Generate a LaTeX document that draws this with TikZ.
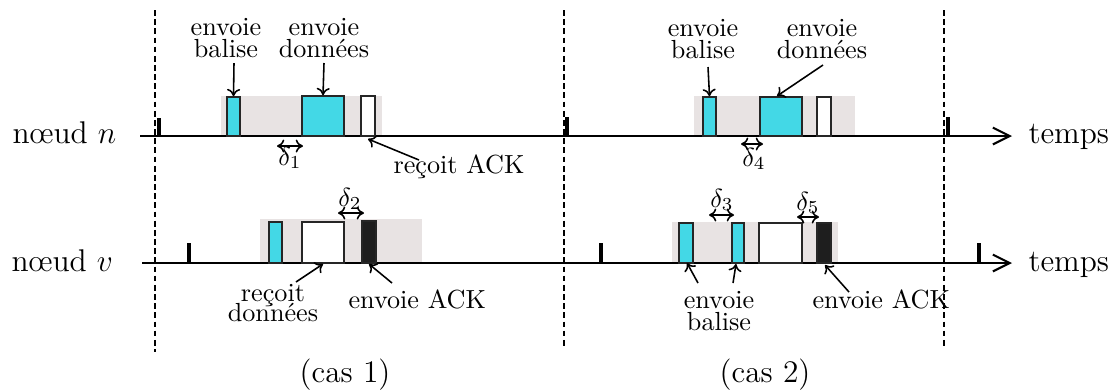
\documentclass[tikz,border=0pt]{standalone}
\usetikzlibrary{fit,arrows.meta}
\definecolor{cyanbox}{RGB}{67,216,230}
\definecolor{bggray}{RGB}{232,227,227}
\definecolor{ackblack}{RGB}{30,30,30}
\newcommand\mylblfont{\fontsize{10pt}{8.3pt}\selectfont\lineskiplimit=-20pt\relax}
\newcommand\mylblfontb{\fontsize{10pt}{7.7pt}\selectfont\lineskiplimit=-20pt\relax}
\newcommand\mybigfont{\fontsize{12pt}{14pt}\selectfont}
\begin{document}
\begin{tikzpicture}[x=0.382pt,y=-0.382pt,
  box/.style={draw=black!85, line width=0.6pt, inner sep=0pt},
  cy/.style={box, fill=cyanbox},
  wh/.style={box, fill=white},
  bk/.style={box, fill=ackblack},
  bg/.style={fill=bggray, inner sep=0pt},
  tickmark/.style={fill=black, inner sep=0pt},
  axis/.style={line width=0.8pt, -{Straight Barb[length=6.4pt,width=6.4pt]}},
  sep/.style={line width=0.5pt, dash pattern=on 2.2pt off 1.3pt},
  ptr/.style={line width=0.6pt, -{To[length=2.8pt,width=5pt]}},
  dlt/.style={line width=0.6pt, {To[length=2.8pt,width=5pt]}-{To[length=2.8pt,width=5pt]}},
  lbl/.style={align=center, inner sep=0pt, font=\mylblfont},
  lblb/.style={align=center, inner sep=0pt, font=\mylblfontb},
  txt/.style={inner sep=0pt},
  big/.style={inner sep=0pt, font=\mybigfont}
]
\useasboundingbox (0,0) rectangle (1118,391);

% grey activity zones
\node[bg, fit={(221,96)(382,136)}] (zu1) {};
\node[bg, fit={(260,219)(422,263)}] (zl1) {};
\node[bg, fit={(694,96)(855,136)}] (zu2) {};
\node[bg, fit={(672,222)(838,263)}] (zl2) {};

% time axes
\coordinate (us) at (140,136);
\coordinate (ue) at (1012,136);
\coordinate (ls) at (142,263);
\coordinate (le) at (1012,263);
\draw[axis] (us) -- (ue);
\draw[axis] (ls) -- (le);

% labels of axes
\node[big, anchor=base west] (nn) at (12,143) {nœud $n$};
\node[big, anchor=base west] (nv) at (11,271) {nœud $v$};
\node[big, anchor=base west] (tn) at (1028,143) {temps};
\node[big, anchor=base west] (tv) at (1028,271) {temps};

% wake-up ticks
\node[tickmark, fit={(157,118)(161,136)}] (t1) {};
\node[tickmark, fit={(565,117)(569,136)}] (t2) {};
\node[tickmark, fit={(946,117)(950,136)}] (t3) {};
\node[tickmark, fit={(187,243)(191,263)}] (t4) {};
\node[tickmark, fit={(599,243)(603,263)}] (t5) {};
\node[tickmark, fit={(977,243)(981,263)}] (t6) {};

% case 1, node n
\node[cy, fit={(227,97)(240,136)}] (ub1) {};
\node[cy, fit={(302,96)(344,136)}] (ud1) {};
\node[wh, fit={(361,96)(375,136)}] (ua1) {};
% case 1, node v
\node[cy, fit={(269,222)(282,263)}] (lb1) {};
\node[wh, fit={(302,222)(344,263)}] (ld1) {};
\node[bk, fit={(362,221)(376,263)}] (la1) {};
% case 2, node n
\node[cy, fit={(703,97)(716,136)}] (ub2) {};
\node[cy, fit={(760,97)(802,136)}] (ud2) {};
\node[wh, fit={(817,97)(831,136)}] (ua2) {};
% case 2, node v
\node[cy, fit={(679,223)(693,263)}] (lb2) {};
\node[cy, fit={(732,223)(744,263)}] (lc2) {};
\node[wh, fit={(759,223)(802,263)}] (ld2) {};
\node[bk, fit={(817,223)(831,263)}] (la2) {};

% separators
\coordinate (s1a) at (155,10); \coordinate (s1b) at (155,352);
\coordinate (s2a) at (564,10); \coordinate (s2b) at (564,347);
\coordinate (s3a) at (944,10); \coordinate (s3b) at (944,347);
\draw[sep] (s1a) -- (s1b);
\draw[sep] (s2a) -- (s2b);
\draw[sep] (s3a) -- (s3b);

% ---- case 1 labels
\node[lbl, anchor=south] (eb1) at (226,58.5) {envoie\\balise};
\node[lbl, anchor=south] (ed1) at (324,58.5) {envoie\\données};
\coordinate (eb1p) at (234,63);
\coordinate (ed1p) at (324,63);
\draw[ptr] (eb1p) -- (ub1.north);
\draw[ptr] (ed1p) -- (ud1.north);

\coordinate (d1a) at (277,146); \coordinate (d1b) at (303,146);
\draw[dlt] (d1a) -- (d1b);
\node[txt, anchor=base] (dl1) at (290,165) {$\delta_1$};

\node[txt, anchor=base west] (ra1) at (393,173) {reçoit ACK};
\coordinate (ra1p) at (419,160); \coordinate (ra1q) at (368,139);
\draw[ptr] (ra1p) -- (ra1q);

\coordinate (d2a) at (338,213); \coordinate (d2b) at (364,213);
\draw[dlt] (d2a) -- (d2b);
\node[txt, anchor=base] (dl2) at (350,206) {$\delta_2$};

\node[lblb, anchor=south] (rd1) at (273,322) {reçoit\\données};
\coordinate (rd1p) at (296,282); \coordinate (rd1q) at (323,264);
\draw[ptr] (rd1p) -- (rd1q);

\node[txt, anchor=base west] (ea1) at (348,308) {envoie ACK};
\coordinate (ea1p) at (392,283); \coordinate (ea1q) at (369,264);
\draw[ptr] (ea1p) -- (ea1q);

\node[big, anchor=base] (c1) at (345,382) {(cas 1)};

% ---- case 2 labels
\node[lbl, anchor=south] (eb2) at (703,59) {envoie\\balise};
\node[lbl, anchor=south] (ed2) at (822,59) {envoie\\données};
\coordinate (eb2p) at (708,67);
\coordinate (ed2p) at (823,65); \coordinate (ed2q) at (777,96);
\draw[ptr] (eb2p) -- (ub2.north);
\draw[ptr] (ed2p) -- (ed2q);

\coordinate (d4a) at (741,144); \coordinate (d4b) at (763,144);
\draw[dlt] (d4a) -- (d4b);
\node[txt, anchor=base] (dl4) at (754,166) {$\delta_4$};

\coordinate (d3a) at (709,215); \coordinate (d3b) at (734,215);
\draw[dlt] (d3a) -- (d3b);
\node[txt, anchor=base] (dl3) at (722,207) {$\delta_3$};

\coordinate (d5a) at (797,217); \coordinate (d5b) at (819,217);
\draw[dlt] (d5a) -- (d5b);
\node[txt, anchor=base] (dl5) at (808,210) {$\delta_5$};

\node[lbl, anchor=south] (eb3) at (719,331) {envoie\\balise};
\coordinate (eb3p) at (698,283); \coordinate (eb3q) at (687,263);
\coordinate (eb3r) at (733,283); \coordinate (eb3s) at (736,264);
\draw[ptr] (eb3p) -- (eb3q);
\draw[ptr] (eb3r) -- (eb3s);

\node[txt, anchor=base west] (ea2) at (812,308) {envoie ACK};
\coordinate (ea2p) at (849,292); \coordinate (ea2q) at (825,265);
\draw[ptr] (ea2p) -- (ea2q);

\node[big, anchor=base] (c2) at (765,382) {(cas 2)};
\end{tikzpicture}
\end{document}
